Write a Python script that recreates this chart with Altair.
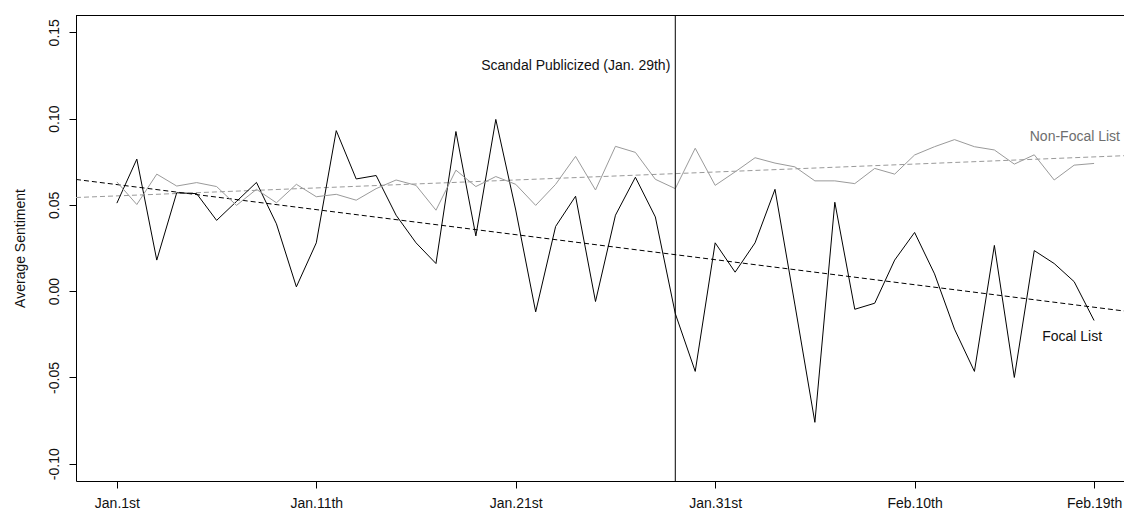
import altair as alt
import pandas as pd

# ---------------- data ----------------
days = list(range(50))  # Jan 1 .. Feb 19

focal = [
    0.051, 0.0765, 0.018, 0.057, 0.0565, 0.041, 0.052, 0.063, 0.039, 0.0025,
    0.028, 0.093, 0.065, 0.067, 0.044, 0.028, 0.016, 0.0925, 0.032, 0.0995,
    0.047, -0.012, 0.0375, 0.055, -0.006, 0.044, 0.066, 0.043, -0.013, -0.0465,
    0.028, 0.011, 0.028, 0.059, -0.008, -0.076, 0.0515, -0.0105, -0.007, 0.018,
    0.034, 0.010, -0.022, -0.0465, 0.0265, -0.050, 0.0235, 0.016, 0.0055, -0.017,
]

nonfocal = [
    0.0633, 0.0502, 0.0678, 0.0609, 0.0629, 0.0606, 0.0497, 0.0590, 0.0512, 0.0619,
    0.0547, 0.0561, 0.0527, 0.0594, 0.0644, 0.0613, 0.0469, 0.0701, 0.0606, 0.0664,
    0.0619, 0.0497, 0.0619, 0.0781, 0.0586, 0.0839, 0.0804, 0.0648, 0.0594, 0.0828,
    0.0613, 0.0691, 0.0773, 0.0742, 0.0720, 0.0639, 0.0639, 0.0623, 0.0711, 0.0678,
    0.0789, 0.0837, 0.0878, 0.0837, 0.0818, 0.0736, 0.0790, 0.0644, 0.0730, 0.0740,
]

series_names = ["Focal", "Non-Focal"]
tick_days = [0, 10, 20, 30, 40, 49]
tick_labels = ["Jan.1st", "Jan.11th", "Jan.21st", "Jan.31st", "Feb.10th", "Feb.19th"]
y_ticks = [-0.10, -0.05, 0.00, 0.05, 0.10, 0.15]
scandal_day = [28]
scandal_text = ["Scandal Publicized (Jan. 29th)"]
series_labels = ["Focal List", "Non-Focal List"]

df = pd.DataFrame({
    "day": days * 2,
    "value": focal + nonfocal,
    "series": [series_names[0]] * len(focal) + [series_names[1]] * len(nonfocal),
})

# ---------------- layout / style ----------------
W, H = 1048, 466
FONT = "Liberation Sans"
X_DOMAIN = [-2.05, 50.5]

label_expr = ""
for d, l in zip(tick_days, tick_labels):
    label_expr += f"datum.value == {d} ? '{l}' : "
label_expr += "''"

xs = alt.Scale(domain=X_DOMAIN, nice=False, zero=False)
ys = alt.Scale(domain=[-0.11, 0.16], nice=False, zero=False)
cs = alt.Scale(domain=series_names, range=["#000000", "#8c8c8c"])
cs_trend = alt.Scale(domain=series_names, range=["#000000", "#9a9a9a"])

x_axis = alt.Axis(values=tick_days, labelExpr=label_expr, title=None, grid=False,
                  tickSize=7, labelPadding=8, labelFlush=False, labelOverlap=False)
y_axis = alt.Axis(values=y_ticks,
                  labelExpr="(datum.value < -0.0001 ? '-' : '') + format(abs(datum.value), '.2f')",
                  title="Average Sentiment", grid=False, tickSize=7, labelPadding=8,
                  labelAngle=270, labelAlign="center", labelBaseline="bottom",
                  titlePadding=20, labelOverlap=False)

x_enc = alt.X("day:Q", scale=xs, axis=x_axis)
y_enc = alt.Y("value:Q", scale=ys, axis=y_axis)

base = alt.Chart(df)

lines = base.mark_line(strokeWidth=1, clip=True).encode(
    x=x_enc, y=y_enc,
    color=alt.Color("series:N", scale=cs, legend=None),
)

trends = base.transform_regression(
    "day", "value", groupby=["series"], extent=X_DOMAIN
).mark_line(strokeWidth=1, strokeDash=[5, 3], clip=True).encode(
    x=x_enc, y=y_enc,
    color=alt.Color("series:N", scale=cs_trend, legend=None),
)

vline = alt.Chart(pd.DataFrame({"day": scandal_day})).mark_rule(
    color="black", strokeWidth=1
).encode(x=alt.X("day:Q", scale=xs, axis=x_axis))

top_border = alt.Chart(pd.DataFrame({"k": [0]})).mark_rule(
    color="black", strokeWidth=1
).encode(x=alt.value(0), x2=alt.value(W), y=alt.value(0.5))

ann_scandal = alt.Chart(pd.DataFrame({"day": [27.75], "value": [0.1306], "t": scandal_text})).mark_text(
    align="right", baseline="middle", font=FONT, fontSize=14, color="#111111"
).encode(x=alt.X("day:Q", scale=xs, axis=x_axis), y=alt.Y("value:Q", scale=ys, axis=y_axis), text="t:N")

ann_nonfocal = alt.Chart(pd.DataFrame({"day": [50.3], "value": [0.0893], "t": [series_labels[1]]})).mark_text(
    align="right", baseline="middle", font=FONT, fontSize=14, color="#6e6e6e"
).encode(x=alt.X("day:Q", scale=xs, axis=x_axis), y=alt.Y("value:Q", scale=ys, axis=y_axis), text="t:N")

ann_focal = alt.Chart(pd.DataFrame({"day": [47.9], "value": [-0.0268], "t": [series_labels[0]]})).mark_text(
    align="center", baseline="middle", font=FONT, fontSize=14, color="#111111"
).encode(x=alt.X("day:Q", scale=xs, axis=x_axis), y=alt.Y("value:Q", scale=ys, axis=y_axis), text="t:N")

chart = alt.layer(
    trends, lines, vline, top_border, ann_scandal, ann_nonfocal, ann_focal
).properties(
    width=W, height=H,
    padding={"left": 68, "top": 7, "right": 0, "bottom": 28},
    autosize=alt.AutoSizeParams(type="none"),
    background="white",
).configure_view(
    stroke=None
).configure_axis(
    domainColor="#000000", tickColor="#000000", labelColor="#111111", titleColor="#111111",
    labelFont=FONT, titleFont=FONT, labelFontSize=14, titleFontSize=14,
    titleFontWeight="normal", domainWidth=1, tickWidth=1,
)

chart.save("out.html", embed_options={"renderer": "svg", "actions": False})
